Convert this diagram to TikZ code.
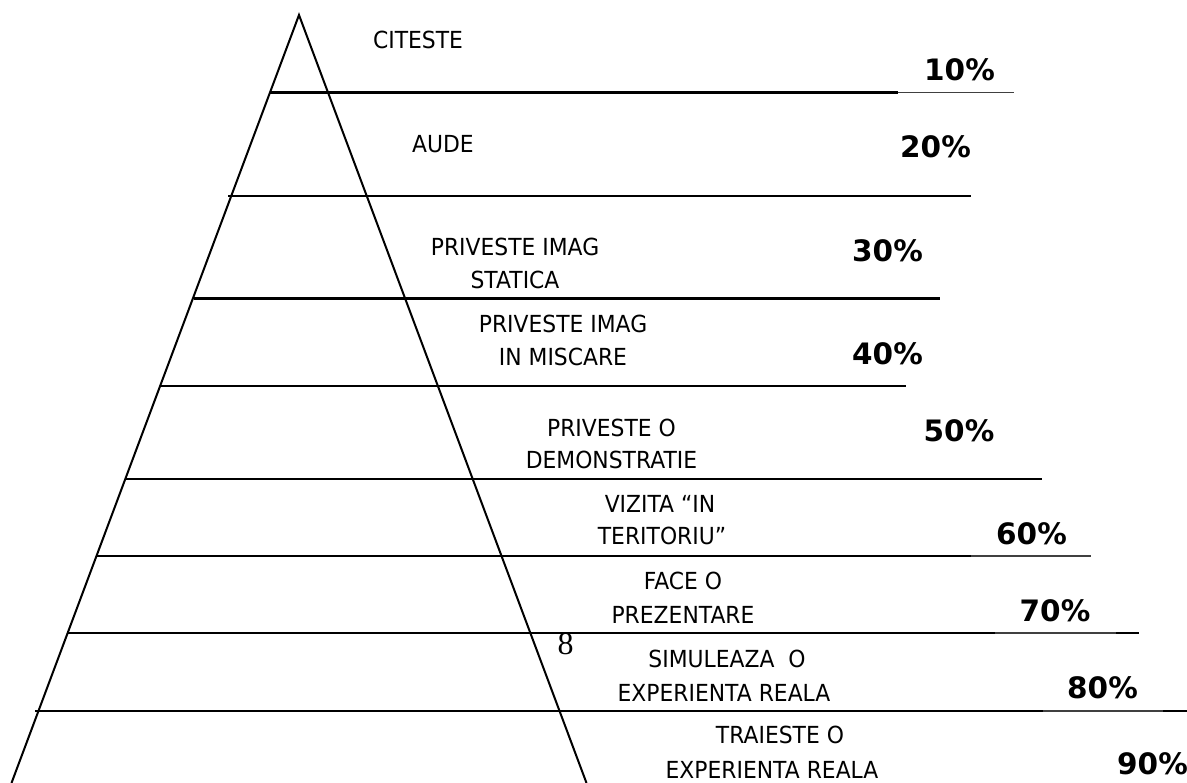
\documentclass[tikz,border=0pt]{standalone}
\usepackage{fontspec}
\newfontfamily\labfont[FakeStretch=0.93]{DejaVu Sans}
\newfontfamily\pctfont{DejaVu Sans}
\newfontfamily\numfont{Liberation Serif}
\begin{document}
\begin{tikzpicture}[x=1pt,y=-1pt,
  thickln/.style={line width=2.2pt,black},
  thinln/.style={line width=1.1pt,black!75},
  side/.style={line width=2pt,black},
  lab/.style={font=\labfont\fontsize{23.5}{26}\selectfont,anchor=base,inner sep=0pt},
  pct/.style={font=\pctfont\bfseries\fontsize{29.5}{34}\selectfont,anchor=base,inner sep=0pt},
  num/.style={font=\numfont\fontsize{32}{36}\selectfont,anchor=base,inner sep=0pt}]
\useasboundingbox (0,0) rectangle (1187,783);
% pyramid sides
\coordinate (apex) at (299,15);
\coordinate (bl) at (11.5,783);
\coordinate (br) at (586.5,783);
\draw[side] (bl) -- (apex) -- (br);
% horizontal lines
\draw[thickln] (270,92.5) -- (898,92.5);
\draw[thinln] (898,92.5) -- (1014,92.5);
\draw[thickln] (228,196) -- (971,196);
\draw[thickln] (194,298.5) -- (940,298.5);
\draw[thickln] (160,386) -- (906,386);
\draw[thickln] (125,479) -- (1042,479);
\draw[thickln] (96,556) -- (971,556);
\draw[thinln] (971,556) -- (1091,556);
\draw[thickln] (67,633) -- (995,633);
\draw[thinln] (995,633) -- (1116,633);
\draw[thickln] (1116,633) -- (1139,633);
\draw[thickln] (35,711) -- (1043,711);
\draw[thinln] (1043,711) -- (1163,711);
\draw[thickln] (1163,711) -- (1187,711);
% labels
\node[lab] (t1) at (418,49) {CITESTE};
\node[lab] (t2) at (443,153) {AUDE};
\node[lab] (t3a) at (515,256) {PRIVESTE IMAG};
\node[lab] (t3b) at (515,289) {STATICA};
\node[lab] (t4a) at (563,333) {PRIVESTE IMAG};
\node[lab] (t4b) at (563,366) {IN MISCARE};
\node[lab] (t5a) at (611.5,437) {PRIVESTE O};
\node[lab] (t5b) at (611.5,468.5) {DEMONSTRATIE};
\node[lab] (t6a) at (660,513) {VIZITA “IN};
\node[lab] (t6b) at (662,545) {TERITORIU”};
\node[lab] (t7a) at (683,590) {FACE O};
\node[lab] (t7b) at (683,623) {PREZENTARE};
\node[lab] (t8a) at (727,667) {SIMULEAZA\ \ O};
\node[lab] (t8b) at (724,701) {EXPERIENTA REALA};
\node[lab] (t9a) at (780,743) {TRAIESTE O};
\node[lab] (t9b) at (772,778) {EXPERIENTA REALA};
\node[num] (eight) at (565.5,654) {8};
% percentages
\node[pct] (p1) at (959.5,81) {10\%};
\node[pct] (p2) at (935.5,158) {20\%};
\node[pct] (p3) at (887.5,262) {30\%};
\node[pct] (p4) at (887.5,365) {40\%};
\node[pct] (p5) at (959,442) {50\%};
\node[pct] (p6) at (1031.5,544) {60\%};
\node[pct] (p7) at (1055,621) {70\%};
\node[pct] (p8) at (1102.5,698) {80\%};
\node[pct] (p9) at (1152.5,774) {90\%};
\end{tikzpicture}
\end{document}
